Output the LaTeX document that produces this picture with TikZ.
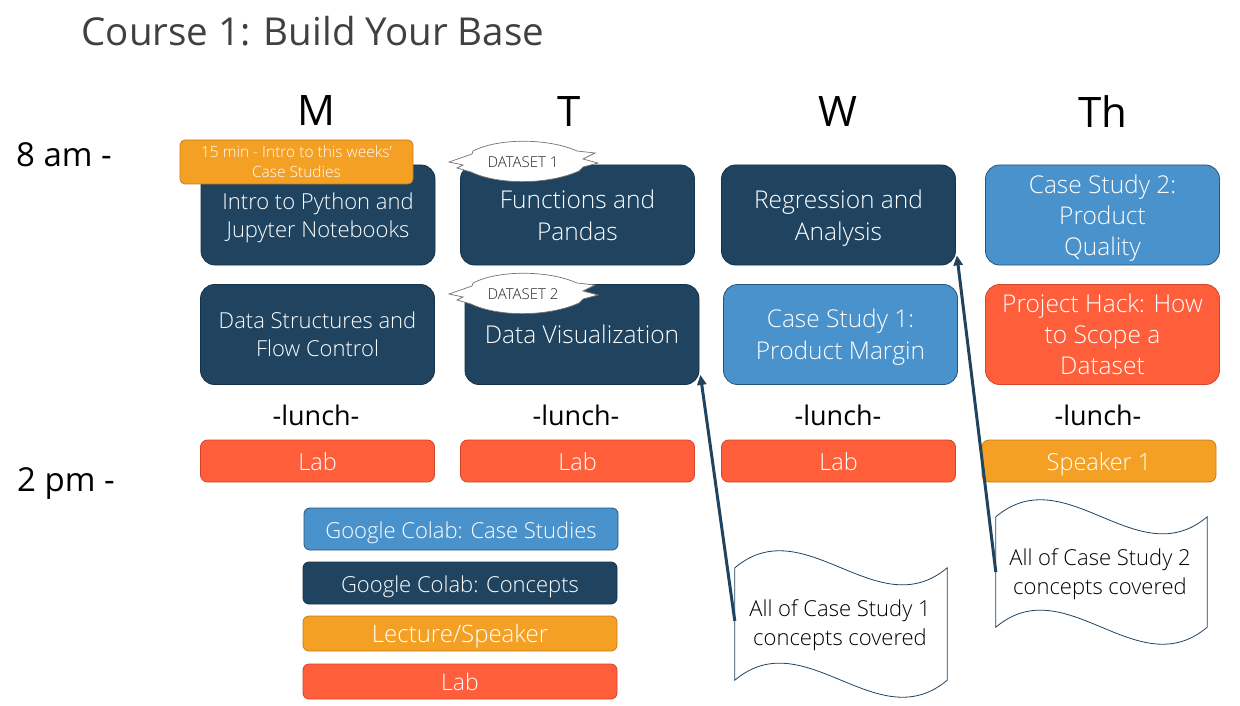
\documentclass[tikz,border=0pt]{standalone}
\usepackage{fontspec}
\setmainfont{Open Sans}
\newfontfamily\thinface{Open Sans Light}
\usetikzlibrary{arrows.meta,calc}

\definecolor{navy}{RGB}{32,68,96}
\definecolor{navyedge}{RGB}{22,50,72}
\definecolor{sky}{RGB}{74,146,203}
\definecolor{skyedge}{RGB}{40,84,122}
\definecolor{amber}{RGB}{244,160,36}
\definecolor{amberedge}{RGB}{200,125,25}
\definecolor{coral}{RGB}{255,94,59}
\definecolor{coraledge}{RGB}{210,70,40}
\definecolor{titlegray}{RGB}{64,64,64}

% outline of a dataset badge around node #1
\newcommand\badgeoutline[1]{%
  \draw[badgeline]
    ($(#1)+(-74,0)$) -- ($(#1)+(-51,-8)$) -- ($(#1)+(-50,-11)$)
    .. controls ($(#1)+(-25,-24)$) and ($(#1)+(25,-24)$) .. ($(#1)+(54,-11)$)
    -- ($(#1)+(72,-9)$) -- ($(#1)+(60,-3)$) -- ($(#1)+(75,1)$) -- ($(#1)+(60,5)$)
    -- ($(#1)+(56,9)$)
    .. controls ($(#1)+(25,23)$) and ($(#1)+(-25,23)$) .. ($(#1)+(-52,10)$)
    -- ($(#1)+(-66,6)$) -- ($(#1)+(-60,3)$) -- cycle;}

% punched-tape outline around node #1
\newcommand\tapeoutline[1]{%
  \draw[tapeline] (#1.north west)
    .. controls +(70,-59) and +(-70,59) .. (#1.north east)
    -- (#1.south east)
    .. controls +(-70,59) and +(70,-59) .. (#1.south west) -- cycle;}

\begin{document}
\begin{tikzpicture}[x=1pt,y=-1pt,
  box/.style={rounded corners=14pt, minimum width=234pt, minimum height=100pt,
    align=center, text=white, line width=0.8pt, inner sep=2pt, text depth=-6pt,
    font=\thinface\fontsize{24.5}{32}\selectfont},
  concept/.style={box, fill=navy, draw=navyedge},
  casestudy/.style={box, fill=sky, draw=skyedge},
  hack/.style={box, fill=coral, draw=coraledge},
  strip/.style={rounded corners=7pt, minimum width=234pt, minimum height=42pt,
    text=white, line width=0.8pt, inner sep=0pt, text height=20pt, text depth=2pt,
    font=\thinface\fontsize{23.5}{26}\selectfont},
  labstrip/.style={strip, fill=coral, draw=coraledge},
  talkstrip/.style={strip, fill=amber, draw=amberedge},
  key/.style={rounded corners=6pt, minimum width=314pt, text=white,
    line width=0.8pt, inner sep=0pt, text height=20pt, text depth=2pt,
    font=\thinface\fontsize{22}{26}\selectfont},
  day/.style={font=\fontsize{42}{46}\selectfont, text=black},
  hour/.style={font=\fontsize{33}{36}\selectfont, text=black},
  lunch/.style={font=\fontsize{27}{30}\selectfont, text=black},
  badge/.style={font=\thinface\fontsize{15}{18}\selectfont, text=black!85},
  badgeline/.style={fill=white, draw=black!55, line width=0.7pt},
  tapeline/.style={fill=white, draw=navy, line width=0.8pt},
  tapetext/.style={minimum width=212pt, align=center, inner sep=0pt,
    font=\thinface\fontsize{22}{29}\selectfont, text=black},
  link/.style={draw=navy, line width=3pt,
    -{Triangle[length=10pt,width=9pt]}}
]
\useasboundingbox (0,0) rectangle (1240,706);

% title
\node[anchor=west, text=titlegray, font=\fontsize{38.5}{42}\selectfont]
  (title) at (78,31) {Course 1: Build Your Base};

% days and hours
\node[day] (dM)  at (316,111) {M};
\node[day] (dT)  at (569,112) {T};
\node[day] (dW)  at (838,112) {W};
\node[day] (dTh) at (1103,112) {Th};
\node[hour] (h8) at (64,155) {8 am -};
\node[hour] (h2) at (66,484) {2 pm -};

% Monday
\node[concept, font=\thinface\fontsize{22}{28}\selectfont] (intro) at (318,215)
  {Intro to Python and\\Jupyter Notebooks};
\node[rounded corners=5pt, fill=amber, draw=amberedge, line width=0.8pt,
  minimum width=233pt, minimum height=44pt, align=center, text=white,
  inner sep=0pt, font=\thinface\fontsize{15.5}{20}\selectfont]
  (kickoff) at (296.5,162) {15 min - Intro to this weeks’\\Case Studies};
\node[concept, font=\thinface\fontsize{22}{28}\selectfont] (flow) at (317.5,334.5)
  {Data Structures and\\Flow Control};
\node[lunch] (lM) at (316,415) {-lunch-};
\node[labstrip] (labM) at (317.5,461) {Lab};

% Tuesday
\node[concept] (func) at (577.5,215) {Functions and\\Pandas};
\node[concept] (viz) at (582,334.5) {Data Visualization};
\node[lunch] (lT) at (576,415) {-lunch-};
\node[labstrip] (labT) at (577.5,461) {Lab};
\node[badge] (ds1) at (523,162) {DATASET 1};
\node[badge] (ds2) at (523,294) {DATASET 2};

% Wednesday
\node[concept] (reg) at (838.5,215) {Regression and\\Analysis};
\node[casestudy] (cs1) at (840.5,334.5) {Case Study 1:\\Product Margin};
\node[lunch] (lW) at (838,415) {-lunch-};
\node[labstrip] (labW) at (838.5,461) {Lab};

% Thursday
\node[casestudy, font=\thinface\fontsize{24.5}{31}\selectfont] (cs2) at (1102.5,215)
  {Case Study 2:\\Product\\Quality};
\node[hack, font=\thinface\fontsize{24.5}{31}\selectfont] (hackTh) at (1102.5,334.5)
  {Project Hack: How\\to Scope a\\Dataset};
\node[lunch] (lTh) at (1098,415) {-lunch-};
\node[talkstrip] (spk) at (1099,461) {Speaker 1};

% key
\node[key, fill=sky, draw=skyedge, minimum height=42pt] (kCase) at (461,529)
  {Google Colab: Case Studies};
\node[key, fill=navy, draw=navyedge, minimum height=42pt] (kConc) at (460,583)
  {Google Colab: Concepts};
\node[key, fill=amber, draw=amberedge, minimum height=35pt,
  font=\thinface\fontsize{24}{26}\selectfont] (kTalk) at (460,633.5)
  {Lecture/Speaker};
\node[key, fill=coral, draw=coraledge, minimum height=35pt,
  font=\thinface\fontsize{23}{26}\selectfont] (kLab) at (460,681.5)
  {Lab};

% dataset badges drawn over the boxes
\badgeoutline{ds1}
\node[badge] at (ds1) {DATASET 1};
\badgeoutline{ds2}
\node[badge] at (ds2) {DATASET 2};

% case study notes
\node[tapetext, minimum height=112pt] (note1) at (841,624) {};
\tapeoutline{note1}
\node[tapetext] at (840,625) {All of Case Study 1\\concepts covered};
\node[tapetext, minimum width=211pt, minimum height=110pt] (note2) at (1101.5,572) {};
\tapeoutline{note2}
\node[tapetext] at (1100,574) {All of Case Study 2\\concepts covered};

% links from notes to the sessions that complete them
\draw[link] ($(note1.west)+(0,-3)$) -- ($(viz.south east)+(1,-10)$);
\draw[link] (note2.west) -- ($(reg.south east)+(1,-10)$);
\end{tikzpicture}
\end{document}
